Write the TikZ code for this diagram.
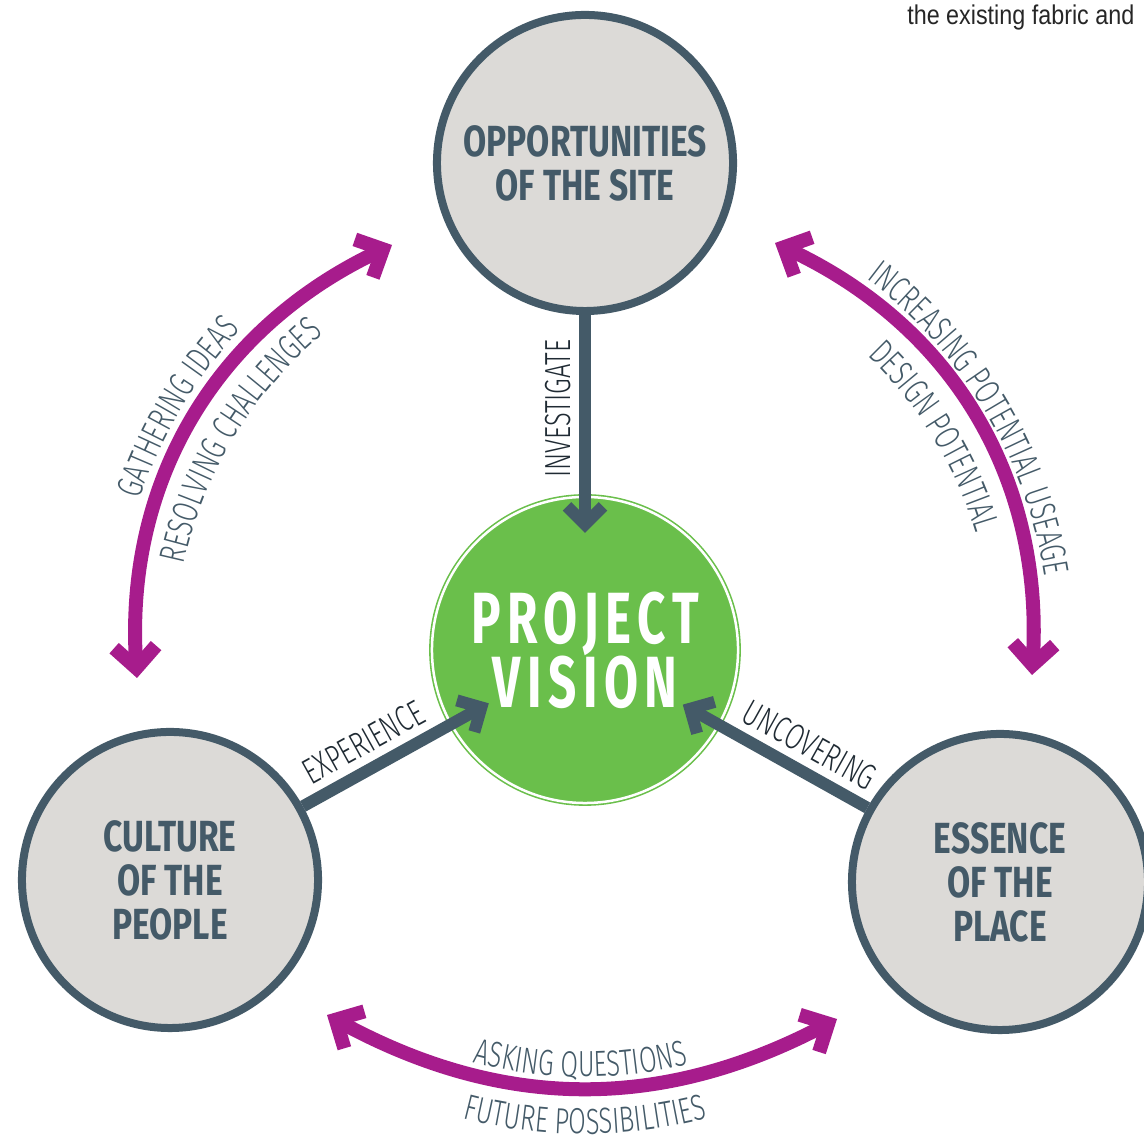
\documentclass[tikz,border=0pt]{standalone}
\usepackage{fontspec}
\usetikzlibrary{arrows.meta,decorations.text}

\newfontfamily\headfont[FakeStretch=0.77]{Fira Sans}
\newfontfamily\visionfont[FakeStretch=0.68,LetterSpace=9]{Fira Sans}
\newfontfamily\tagfont[FakeStretch=0.70]{Fira Sans Light}
\newfontfamily\notefont[FakeStretch=0.86]{Liberation Sans}

\definecolor{slate}{HTML}{445A68}
\definecolor{stone}{HTML}{DCDAD7}
\definecolor{leaf}{HTML}{6ABF4B}
\definecolor{plum}{HTML}{A71C8C}
\definecolor{ink}{HTML}{1F2A33}

\newcommand{\arcfont}{\tagfont\fontsize{25.8pt}{30pt}\selectfont}

\begin{document}
\begin{tikzpicture}[x=0.025cm,y=0.025cm,
  main node/.style={circle,draw=slate,line width=0.2cm,fill=stone,minimum size=7.4cm,inner sep=0pt,
    align=center,text=slate,font=\headfont\bfseries\fontsize{31pt}{31.3pt}\selectfont},
  vision node/.style={circle,fill=leaf,draw=leaf,double=white,double distance=0.0625cm,line width=0.04cm,
    minimum size=7.65cm,inner sep=0pt,align=center,text=white,font=\visionfont\bfseries\fontsize{51.6pt}{45.5pt}\selectfont},
  flow/.style={draw=slate,line width=0.3cm,-{Straight Barb[length=0.45cm,width=0.9cm]}},
  swing/.style={draw=plum,line width=0.35cm,{Straight Barb[length=0.53cm,width=1.05cm]}-{Straight Barb[length=0.53cm,width=1.05cm]}},
  arrow tag/.style={text=ink,font=\tagfont\fontsize{25.8pt}{30pt}\selectfont,inner sep=0.2cm},
  arc tag/.style={decorate,decoration={text along path,text align=center,text color=slate,text={|\arcfont|#1}}}]
  \useasboundingbox (0,0) rectangle (1144,1141);

  % the four circles
  \node[vision node] (vision) at (585,491) {PROJECT\\VISION};
  \node[main node] (site) at (585,978) {OPPORTUNITIES\\OF THE SITE};
  \node[main node] (people) at (170,261) {CULTURE\\OF THE\\PEOPLE};
  \node[main node] (place) at (1000,259) {ESSENCE\\OF THE\\PLACE};

  \node[anchor=base west,inner sep=0pt,text=black!85,font=\notefont\fontsize{19.3pt}{22pt}\selectfont] (note) at (907,1116) {the existing fabric and};

  % arrows into the vision
  \path[every node/.style={arrow tag}]
    (site) edge[flow,shorten >=2.925cm] node[pos=0.28,rotate=90,anchor=south] {INVESTIGATE} (vision.center)
    (people) edge[flow,shorten >=2.75cm] node[pos=0.26,sloped,anchor=south] {EXPERIENCE} (vision.center)
    (place) edge[flow,shorten >=2.8cm] node[pos=0.25,sloped,anchor=south] {UNCOVERING} (vision.center);

  % the three swings round the vision
  \coordinate (ideas low) at (137,463);
  \coordinate (ideas high) at (392,896);
  \coordinate (usage high) at (775,898);
  \coordinate (usage low) at (1032,466);
  \coordinate (asking left) at (327,126);
  \coordinate (asking right) at (837,122);
  \path (ideas low) edge[swing,bend left=34] (ideas high)
    (usage low) edge[swing,bend right=34] (usage high)
    (asking left) edge[swing,bend right=28] (asking right);

  \path[arc tag=GATHERING IDEAS] (vision.center) ++(180:470) arc[start angle=180,end angle=118.4,radius=470];
  \path[arc tag=RESOLVING CHALLENGES] (vision.center) ++(180:410) arc[start angle=180,end angle=117.6,radius=410];
  \path[arc tag=INCREASING POTENTIAL USEAGE] (vision.center) ++(62:466) arc[start angle=62,end angle=0,radius=466];
  \path[arc tag=DESIGN POTENTIAL] (vision.center) ++(62.8:408) arc[start angle=62.8,end angle=0,radius=408];
  \path[arc tag=ASKING QUESTIONS] (vision.center) ++(239.4:427) arc[start angle=239.4,end angle=299.4,radius=427];
  \path[arc tag=FUTURE POSSIBILITIES] (vision.center) ++(240:484) arc[start angle=240,end angle=300,radius=484];
\end{tikzpicture}
\end{document}
